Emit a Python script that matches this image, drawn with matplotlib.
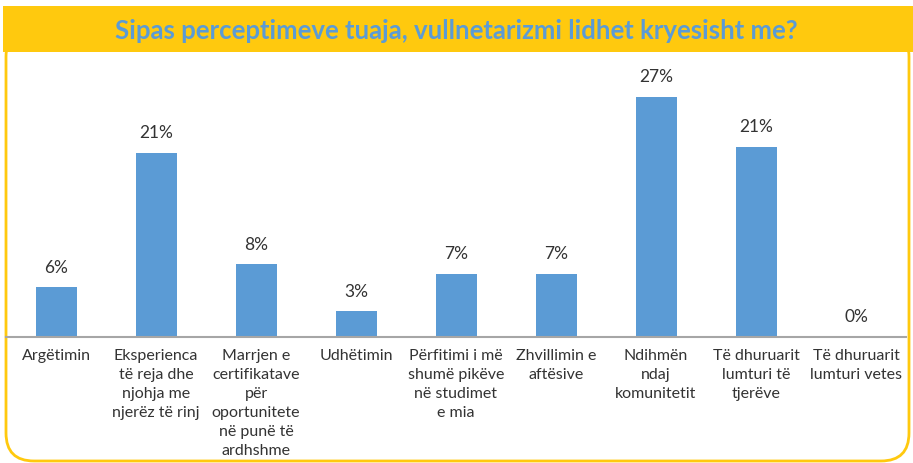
import matplotlib.pyplot as plt
from matplotlib.patches import FancyBboxPatch, Rectangle

# Të dhënat
kategorite = [
    "Argëtimin",
    "Eksperienca\ntë reja dhe\nnjohja me\nnjerëz të rinj",
    "Marrjen e\ncertifikatave\npër\noportunitete\nnë punë të\nardhshme",
    "Udhëtimin",
    "Përfitimi i më\nshumë pikëve\nnë studimet\ne mia",
    "Zhvillimin e\naftësive",
    "Ndihmën\nndaj\nkomunitetit",
    "Të dhuruarit\nlumturi të\ntjerëve",
    "Të dhuruarit\nlumturi vetes",
]
vlerat = [5.6, 20.7, 8.2, 2.9, 7.1, 7.1, 27.0, 21.4, 0.0]
titulli = "Sipas perceptimeve tuaja, vullnetarizmi lidhet kryesisht me?"

blu = "#5B9BD5"
verdhe = "#FFC90E"
plt.rcParams['font.family'] = ['Lato', 'DejaVu Sans']

fig = plt.figure(figsize=(9.13, 4.64), dpi=100)

# sfondi: korniza dhe shiriti i titullit, në koordinata pikselësh
bg = fig.add_axes([0, 0, 1, 1])
bg.set_xlim(0, 913)
bg.set_ylim(464, 0)
bg.axis('off')
bg.add_patch(FancyBboxPatch((6, 30), 903, 432, boxstyle="round,pad=0,rounding_size=28",
                            facecolor='white', edgecolor=verdhe, lw=2))
bg.add_patch(Rectangle((3, 7), 910, 46, facecolor=verdhe, edgecolor='none'))
bg.text(456, 31, titulli, ha='center', va='center', color=blu,
        fontsize=18.5, fontweight='bold')

ax = fig.add_axes([6 / 913, 1 - 338 / 464, 900 / 913, 267 / 464])
ax.patch.set_alpha(0)
x = range(len(vlerat))
bars = ax.bar(x, vlerat, width=0.41, color=blu)
for b, v in zip(bars, vlerat):
    ax.annotate(f"{v:.0f}%", (b.get_x() + b.get_width() / 2, v),
                xytext=(0, 9), textcoords='offset points',
                ha='center', va='bottom', fontsize=12.5, color='#333333')

ax.set_xlim(-0.5, len(vlerat) - 0.5)
ax.set_ylim(0, 30)
for s in ['top', 'right', 'left']:
    ax.spines[s].set_visible(False)
ax.spines['bottom'].set_color('#A6A6A6')
ax.spines['bottom'].set_linewidth(1.5)
ax.set_yticks([])
ax.set_xticks(list(x))
ax.set_xticklabels(kategorite, fontsize=11.5, color='#333333', linespacing=1.45)
ax.tick_params(axis='x', length=0, pad=8)

fig.savefig("out.png", dpi=100)
